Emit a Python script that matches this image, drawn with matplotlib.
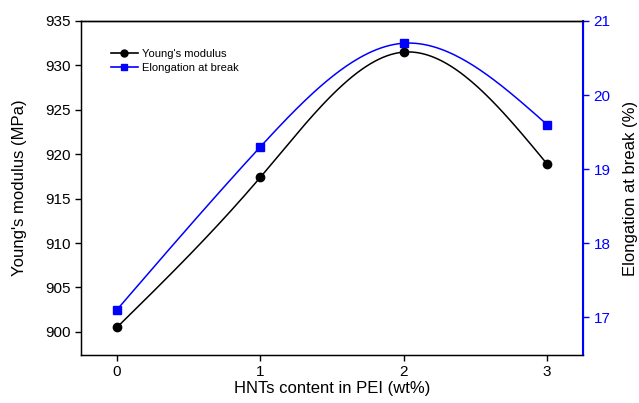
import numpy as np
import matplotlib
matplotlib.use("Agg")
import matplotlib.pyplot as plt

plt.rcParams['font.family'] = ['Liberation Sans', 'DejaVu Sans']

hnt = [0, 1, 2, 3]
youngs = [900.5, 917.4, 931.5, 918.9]
elong = [17.1, 19.3, 20.7, 19.6]
xticks = [0, 1, 2, 3]
yticks_left = [900, 905, 910, 915, 920, 925, 930, 935]
yticks_right = [17, 18, 19, 20, 21]


def natural_spline(x, y, n=200):
    x = np.asarray(x, float); y = np.asarray(y, float)
    k = len(x)
    h = np.diff(x)
    A = np.zeros((k, k)); b = np.zeros(k)
    A[0, 0] = 1; A[-1, -1] = 1
    for i in range(1, k - 1):
        A[i, i - 1] = h[i - 1]
        A[i, i] = 2 * (h[i - 1] + h[i])
        A[i, i + 1] = h[i]
        b[i] = 3 * ((y[i + 1] - y[i]) / h[i] - (y[i] - y[i - 1]) / h[i - 1])
    c = np.linalg.solve(A, b)
    xs = np.linspace(x[0], x[-1], n)
    ys = np.empty_like(xs)
    for j, xv in enumerate(xs):
        i = min(np.searchsorted(x, xv, side='right') - 1, k - 2)
        dx = xv - x[i]
        bi = (y[i + 1] - y[i]) / h[i] - h[i] * (2 * c[i] + c[i + 1]) / 3
        di = (c[i + 1] - c[i]) / (3 * h[i])
        ys[j] = y[i] + bi * dx + c[i] * dx ** 2 + di * dx ** 3
    return xs, ys


fig = plt.figure(figsize=(6.39, 4.03), dpi=100)
ax = fig.add_axes([81 / 639, 1 - 355 / 403, (583 - 81) / 639, (355 - 21) / 403])
ax2 = ax.twinx()

xs, ys = natural_spline(hnt, youngs)
ax.plot(xs, ys, color='black', lw=1.1)
ax.plot(hnt, youngs, 'o', color='black', ms=6)
xs2, ys2 = natural_spline(hnt, elong)
ax2.plot(xs2, ys2, color='#0000ff', lw=1.1)
ax2.plot(hnt, elong, 's', color='#0000ff', ms=6)

ax.plot([], [], '-o', color='black', ms=5, lw=1.2, label="Young's modulus")
ax.plot([], [], '-s', color='#0000ff', ms=5, lw=1.2, label='Elongation at break')
ax.legend(loc='upper left', bbox_to_anchor=(0.05, 0.93), frameon=False,
          fontsize=8, handlelength=2.5, handletextpad=0.3, labelspacing=0.35,
          borderaxespad=0)

ax.set_xlim(-0.25, 3.25)
ax.set_ylim(897.4, 935)
ax2.set_ylim(16.49, 21)
ax.set_xticks(xticks)
ax.set_yticks(yticks_left)
ax2.set_yticks(yticks_right)

ax.tick_params(axis='both', direction='out', labelsize=11, length=4, width=1)
ax.tick_params(axis='y', right=False)
ax2.tick_params(axis='y', direction='out', labelsize=11, length=4, width=1,
                colors='#0000ff', labelcolor='#0000ff')

for s in ['left', 'bottom', 'top']:
    ax.spines[s].set_linewidth(1)
ax2.spines['right'].set_color('#0000ff')
ax2.spines['right'].set_linewidth(1.5)
ax2.spines['top'].set_linewidth(1)

ax.set_xlabel('HNTs content in PEI (wt%)', fontsize=12, labelpad=1)
ax.set_ylabel("Young's modulus (MPa)", fontsize=12, labelpad=13)
ax2.set_ylabel('Elongation at break (%)', fontsize=12, labelpad=9, color='black')

fig.savefig('out.png', dpi=100)
